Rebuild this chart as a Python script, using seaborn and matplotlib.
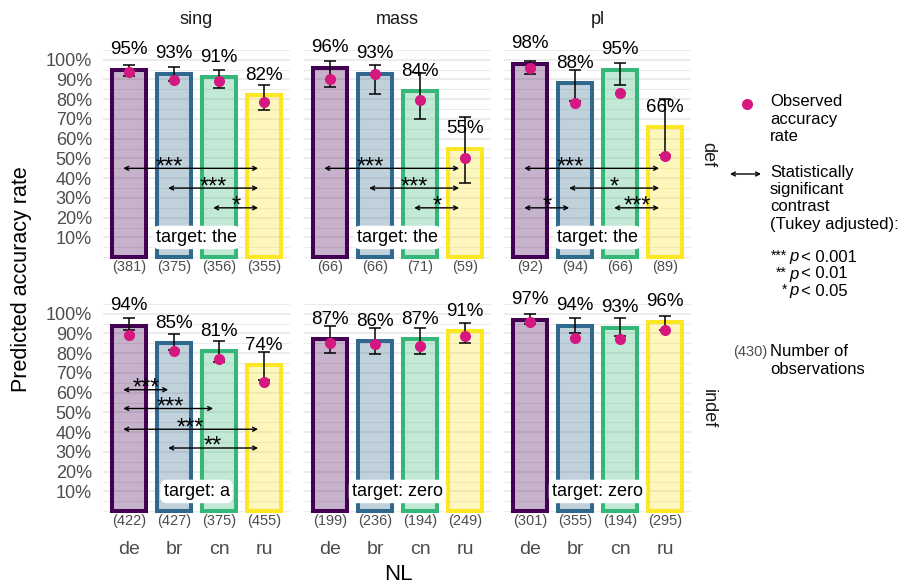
import numpy as np
import pandas as pd
import matplotlib
matplotlib.use("Agg")
import matplotlib.pyplot as plt
import seaborn as sns
from matplotlib.colors import to_rgb
from matplotlib.ticker import PercentFormatter, FixedLocator

# ---------------------------------------------------------------- data
NL = ["de", "br", "cn", "ru"]
NUMBERS = ["sing", "mass", "pl"]
DEFINITENESS = ["def", "indef"]

# predicted accuracy with 95% CI, observed rate and number of observations
pred_sing_def = [0.95, 0.93, 0.91, 0.82]
lo_sing_def = [0.918, 0.890, 0.857, 0.744]
hi_sing_def = [0.974, 0.964, 0.946, 0.874]
obs_sing_def = [0.940, 0.896, 0.891, 0.784]
n_sing_def = [381, 375, 356, 355]

pred_mass_def = [0.96, 0.93, 0.84, 0.55]
lo_mass_def = [0.860, 0.825, 0.700, 0.377]
hi_mass_def = [0.994, 0.974, 0.931, 0.710]
obs_mass_def = [0.900, 0.928, 0.796, 0.503]
n_mass_def = [66, 66, 71, 59]

pred_pl_def = [0.98, 0.88, 0.95, 0.66]
lo_pl_def = [0.926, 0.790, 0.872, 0.520]
hi_pl_def = [0.994, 0.948, 0.982, 0.800]
obs_pl_def = [0.957, 0.782, 0.833, 0.513]
n_pl_def = [92, 94, 66, 89]

pred_sing_indef = [0.94, 0.85, 0.81, 0.74]
lo_sing_indef = [0.916, 0.815, 0.757, 0.665]
hi_sing_indef = [0.978, 0.899, 0.860, 0.807]
obs_sing_indef = [0.894, 0.812, 0.773, 0.656]
n_sing_indef = [422, 427, 375, 455]

pred_mass_indef = [0.87, 0.86, 0.87, 0.91]
lo_mass_indef = [0.803, 0.795, 0.798, 0.854]
hi_mass_indef = [0.936, 0.929, 0.929, 0.954]
obs_mass_indef = [0.852, 0.845, 0.837, 0.886]
n_mass_indef = [199, 236, 194, 249]

pred_pl_indef = [0.97, 0.94, 0.93, 0.96]
lo_pl_indef = [0.950, 0.904, 0.885, 0.920]
hi_pl_indef = [0.996, 0.978, 0.978, 0.986]
obs_pl_indef = [0.960, 0.877, 0.874, 0.916]
n_pl_indef = [301, 355, 194, 295]

targets_def = ["target: the", "target: the", "target: the"]
targets_indef = ["target: a", "target: zero", "target: zero"]

# significant pairwise contrasts: (from, to, height, stars, label position)
contrasts_sing_def = [("de", "ru", 0.45, "***", 0.89), ("br", "ru", 0.35, "***", 1.87),
                      ("cn", "ru", 0.25, "*", 2.38)]
contrasts_mass_def = [("de", "ru", 0.45, "***", 0.89), ("br", "ru", 0.35, "***", 1.87),
                      ("cn", "ru", 0.25, "*", 2.38)]
contrasts_pl_def = [("de", "ru", 0.45, "***", 0.89), ("br", "ru", 0.35, "*", 1.87),
                    ("de", "br", 0.25, "*", 0.38), ("cn", "ru", 0.25, "***", 2.38)]
contrasts_sing_indef = [("de", "br", 0.615, "***", 0.39), ("de", "cn", 0.52, "***", 0.91),
                        ("de", "ru", 0.415, "***", 1.36), ("br", "ru", 0.32, "**", 1.87)]
contrasts_mass_indef = []
contrasts_pl_indef = []

PALETTE = dict(zip(NL, ["#440154", "#31688E", "#35B779", "#FDE725"]))
POINT_COLOR = "#D4187F"
GREY = "#4D4D4D"

# ---------------------------------------------------------------- tidy table
panels = {
    ("sing", "def"): (pred_sing_def, lo_sing_def, hi_sing_def, obs_sing_def, n_sing_def, contrasts_sing_def),
    ("mass", "def"): (pred_mass_def, lo_mass_def, hi_mass_def, obs_mass_def, n_mass_def, contrasts_mass_def),
    ("pl", "def"): (pred_pl_def, lo_pl_def, hi_pl_def, obs_pl_def, n_pl_def, contrasts_pl_def),
    ("sing", "indef"): (pred_sing_indef, lo_sing_indef, hi_sing_indef, obs_sing_indef, n_sing_indef, contrasts_sing_indef),
    ("mass", "indef"): (pred_mass_indef, lo_mass_indef, hi_mass_indef, obs_mass_indef, n_mass_indef, contrasts_mass_indef),
    ("pl", "indef"): (pred_pl_indef, lo_pl_indef, hi_pl_indef, obs_pl_indef, n_pl_indef, contrasts_pl_indef),
}
rows = []
for (num, d), (p, lo, hi, ob, n, _) in panels.items():
    for i, lang in enumerate(NL):
        rows.append(dict(number=num, defin=d, NL=lang, pred=p[i], lo=lo[i], hi=hi[i], obs=ob[i], n=n[i]))
df = pd.DataFrame(rows)

# ---------------------------------------------------------------- figure
sns.set_theme(style="white")
plt.rcParams["font.family"] = ["Liberation Sans", "DejaVu Sans"]

W, H = 907, 586
fig = plt.figure(figsize=(W / 100, H / 100), dpi=100)
fig.patch.set_facecolor("white")

col_left = [103, 304, 504]
col_w = 187
row_top = [36, 290]
row_h = 238
EDGE_LW = 2.9

for r, d in enumerate(DEFINITENESS):
    targets = targets_def if d == "def" else targets_indef
    for c, num in enumerate(NUMBERS):
        ax = fig.add_axes([col_left[c] / W, 1 - (row_top[r] + row_h) / H, col_w / W, row_h / H])
        sub = df[(df.number == num) & (df.defin == d)].set_index("NL").loc[NL].reset_index()
        contrasts = panels[(num, d)][5]

        # grid (drawn below everything)
        ax.set_axisbelow(True)
        ax.yaxis.set_major_locator(FixedLocator(np.round(np.arange(0.1, 1.01, 0.1), 2)))
        ax.yaxis.set_minor_locator(FixedLocator(np.round(np.arange(0.0, 1.06, 0.05), 2)))
        ax.grid(which="major", axis="both", color="#EBEBEB", lw=1.3)
        ax.grid(which="minor", axis="y", color="#EBEBEB", lw=0.7)

        sns.barplot(data=sub, x="NL", y="pred", hue="NL", order=NL, hue_order=NL,
                    palette=PALETTE, width=0.75, saturation=1, legend=False,
                    errorbar=None, linewidth=EDGE_LW, ax=ax, zorder=2)
        for patch in ax.patches:
            idx = int(round(patch.get_x() + patch.get_width() / 2))
            rgb = to_rgb(PALETTE[NL[idx]])
            patch.set_facecolor((*rgb, 0.3))
            patch.set_edgecolor(rgb)
            patch.set_joinstyle("miter")

        pos = np.arange(len(NL))
        ax.errorbar(pos, sub["pred"], yerr=[sub["pred"] - sub["lo"], sub["hi"] - sub["pred"]],
                    fmt="none", ecolor="black", elinewidth=1.1, capsize=4.3, capthick=1.1, zorder=4)

        sns.stripplot(data=sub, x="NL", y="obs", order=NL, jitter=False, color=POINT_COLOR,
                      size=8, linewidth=0, ax=ax, zorder=5)

        for i, row in sub.iterrows():
            ax.text(i, row["pred"] + 0.10, f"{round(row['pred'] * 100)}%", ha="center",
                    va="center", fontsize=13.5, color="black", zorder=6)
            ax.text(i, -0.05, f"({row['n']})", ha="center", va="center", fontsize=10.5,
                    color=GREY, zorder=6)

        # significant contrasts
        for a, b, y, stars, lx in contrasts:
            i, j = NL.index(a) - 0.13, NL.index(b) - 0.13
            ax.annotate("", xy=(j, y), xytext=(i, y),
                        arrowprops=dict(arrowstyle="<->", lw=1.0, color="black",
                                        mutation_scale=7, shrinkA=0, shrinkB=0), zorder=6)
            ax.text(lx, y + 0.005, stars, ha="center", va="center", fontsize=17, color="black", zorder=6)

        ax.text(1.5, 0.10, targets[c], ha="center", va="center", fontsize=13, color="black", zorder=7,
                bbox=dict(boxstyle="round,pad=0.18,rounding_size=0.35", fc="white", ec="none"))

        ax.set_xlim(-0.58, 3.58)
        ax.set_ylim(-0.085, 1.12)
        ax.yaxis.set_major_formatter(PercentFormatter(1.0, decimals=0))
        ax.set_xlabel("")
        ax.set_ylabel("")
        for s in ax.spines.values():
            s.set_visible(False)
        ax.tick_params(axis="both", which="both", length=0)
        ax.tick_params(axis="y", labelleft=(c == 0), labelsize=13, labelcolor=GREY, pad=8)
        ax.tick_params(axis="x", labelbottom=(r == 1), labelsize=14, labelcolor=GREY, pad=9)

        if r == 0:
            fig.text((col_left[c] + col_w / 2) / W, 1 - 19 / H, num, ha="center", va="center",
                     fontsize=13, color="#1A1A1A")
    fig.text(708 / W, 1 - (row_top[r] + row_h / 2) / H, d, ha="center", va="center",
             rotation=-90, fontsize=13, color="#1A1A1A")

fig.text(22 / W, 1 - 279 / H, "Predicted accuracy rate", rotation=90, ha="center", va="center",
         fontsize=15.5, color="black")
fig.text(398 / W, 1 - 574 / H, "NL", ha="center", va="center", fontsize=16, color="black")

# ---------------------------------------------------------------- legend
lg = fig.add_axes([0, 0, 1, 1], facecolor="none")
lg.set_xlim(0, W)
lg.set_ylim(H, 0)
lg.axis("off")

TX = 770
lg.plot([747], [104], marker="o", ms=8, color=POINT_COLOR, mec="none")
for k, line in enumerate(["Observed", "accuracy", "rate"]):
    lg.text(TX, 102 + 17.4 * k, line, ha="left", va="center", fontsize=12, color="black")

lg.annotate("", xy=(761, 174), xytext=(730, 174),
            arrowprops=dict(arrowstyle="<->", lw=1.0, color="black", mutation_scale=7,
                            shrinkA=0, shrinkB=0))
for k, line in enumerate(["Statistically", "significant", "contrast", "(Tukey adjusted):"]):
    lg.text(TX, 172 + 17.4 * k, line, ha="left", va="center", fontsize=12, color="black")

for k, (stars, thr) in enumerate([("***", "< 0.001"), ("**", "< 0.01"), ("*", "< 0.05")]):
    y = 257 + 17 * k
    lg.text(787, y - 1, stars, ha="right", va="center", fontsize=10, color="black")
    lg.text(789, y, "p", ha="left", va="center", fontsize=12, style="italic", color="black")
    lg.text(801, y, thr, ha="left", va="center", fontsize=12, color="black")

lg.text(767, 352, "(430)", ha="right", va="center", fontsize=10.5, color=GREY)
lg.text(TX, 352, "Number of", ha="left", va="center", fontsize=12, color="black")
lg.text(TX, 369, "observations", ha="left", va="center", fontsize=12, color="black")

fig.savefig("out.png", dpi=100, facecolor="white")
